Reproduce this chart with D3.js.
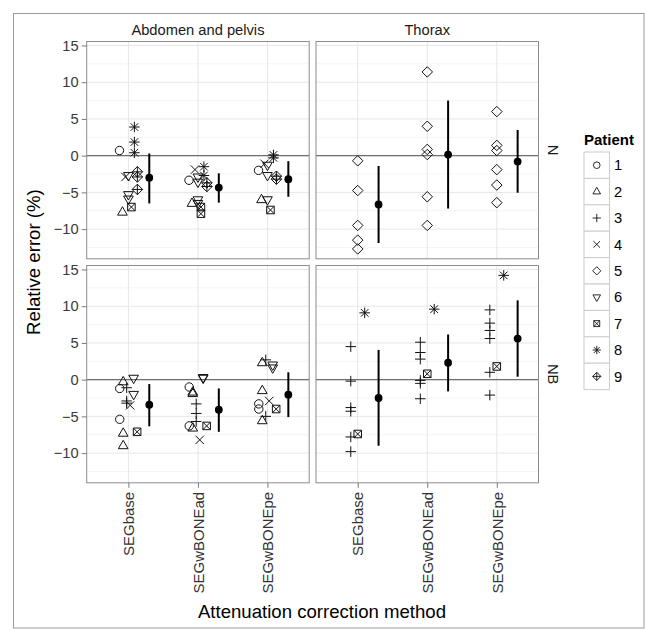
<!DOCTYPE html>
<html>
<head>
<meta charset="utf-8">
<script src="https://cdn.jsdelivr.net/npm/d3@7"></script>
<style>
  body { margin: 0; background: #fff; }
  text { font-family: "Liberation Sans", Arial, sans-serif; }
</style>
</head>
<body>
<div id="chart"></div>
<script>
var methods = ["SEGbase", "SEGwBONEad", "SEGwBONEpe"];
var regions = ["Abdomen and pelvis", "Thorax"];
var lesionTypes = ["N", "NB"];
var patients = [1, 2, 3, 4, 5, 6, 7, 8, 9];
var yTicks = [-10, -5, 0, 5, 10, 15];

// lesions: [method index, patient, relative error %]
var abdomenN = [
  [0, 1, 0.7], [0, 2, -7.7], [0, 4, -2.9], [0, 6, -2.7], [0, 6, -5.3], [0, 6, -5.9],
  [0, 7, -7.0], [0, 8, 3.9], [0, 8, 1.85], [0, 8, 0.4], [0, 9, -2.2], [0, 9, -2.9], [0, 9, -4.6],
  [1, 1, -3.35], [1, 2, -6.5], [1, 4, -1.9], [1, 6, -2.9], [1, 6, -3.6], [1, 6, -6.0], [1, 6, -6.5],
  [1, 7, -7.0], [1, 7, -7.9], [1, 8, -1.5], [1, 8, -2.7], [1, 9, -3.7], [1, 9, -4.2],
  [2, 1, -2.0], [2, 2, -6.0], [2, 4, -1.1], [2, 6, -1.3], [2, 6, -2.7], [2, 6, -6.0],
  [2, 7, -7.4], [2, 8, 0.1], [2, 8, -0.3], [2, 9, -2.8], [2, 9, -3.2]
];
var thoraxN = [
  [0, 5, -0.7], [0, 5, -4.75], [0, 5, -9.5], [0, 5, -11.5], [0, 5, -12.7],
  [1, 5, 11.4], [1, 5, 4.0], [1, 5, 0.85], [1, 5, 0.15], [1, 5, -5.6], [1, 5, -9.5],
  [2, 5, 6.0], [2, 5, 1.4], [2, 5, 0.7], [2, 5, -1.9], [2, 5, -4.0], [2, 5, -6.4]
];
var abdomenNB = [
  [0, 1, -1.2], [0, 1, -5.4], [0, 2, -0.3], [0, 2, -7.3], [0, 2, -9.0], [0, 3, -1.1],
  [0, 3, -2.9], [0, 3, -3.2], [0, 4, -3.5], [0, 6, 0.2], [0, 6, -2.0], [0, 7, -7.1],
  [1, 1, -1.0], [1, 1, -6.3], [1, 2, -1.7], [1, 2, -1.9], [1, 2, -6.6], [1, 3, -3.3],
  [1, 3, -4.6], [1, 3, -5.7], [1, 4, -8.2], [1, 6, 0.2], [1, 6, 0.3], [1, 7, -6.3],
  [2, 1, -3.3], [2, 1, -4.0], [2, 2, 2.3], [2, 2, -1.5], [2, 2, -5.6], [2, 3, 2.7],
  [2, 3, -5.0], [2, 4, -2.9], [2, 6, 2.0], [2, 6, 1.6], [2, 7, -4.0]
];
var thoraxNB = [
  [0, 3, 4.5], [0, 3, -0.2], [0, 3, -3.8], [0, 3, -4.3], [0, 3, -7.8], [0, 3, -9.8],
  [0, 7, -7.4], [0, 8, 9.1],
  [1, 3, 5.1], [1, 3, 3.7], [1, 3, 2.8], [1, 3, -0.1], [1, 3, -0.5], [1, 3, -2.6],
  [1, 7, 0.8], [1, 8, 9.6],
  [2, 3, 9.5], [2, 3, 7.7], [2, 3, 6.7], [2, 3, 5.6], [2, 3, 1.0], [2, 3, -2.1],
  [2, 7, 1.8], [2, 8, 14.2]
];

// summaries: [method index, mean, low, high]
var abdomenNStats = [[0, -3.0, -6.5, 0.3], [1, -4.35, -6.4, -2.4], [2, -3.2, -5.6, -0.75]];
var thoraxNStats = [[0, -6.65, -11.9, -1.4], [1, 0.15, -7.2, 7.5], [2, -0.8, -5.05, 3.5]];
var abdomenNBStats = [[0, -3.4, -6.35, -0.6], [1, -4.1, -7.1, -1.2], [2, -2.05, -5.1, 1.0]];
var thoraxNBStats = [[0, -2.5, -9.0, 4.05], [1, 2.3, -1.6, 6.15], [2, 5.6, 0.4, 10.8]];

var panels = [
  {col: 0, row: 0, pts: abdomenN, stats: abdomenNStats},
  {col: 1, row: 0, pts: thoraxN, stats: thoraxNStats},
  {col: 0, row: 1, pts: abdomenNB, stats: abdomenNBStats},
  {col: 1, row: 1, pts: thoraxNB, stats: thoraxNBStats}
];

var W = 650, H = 631;
var panelX = [86.7, 316], panelY = [41.5, 265.5];
var pw = 222.5, ph = 217.3;

var svg = d3.select("#chart").append("svg")
    .attr("width", W)
    .attr("height", H);

// outer frame
svg.append("rect")
    .attr("x", 13.5).attr("y", 13.5)
    .attr("width", 630.5).attr("height", 614.5)
    .attr("fill", "none").attr("stroke", "#9a9a9a").attr("stroke-width", 1);

// shared scales
var allVals = [];
panels.forEach(function(p) {
  p.pts.forEach(function(d) { allVals.push(d[2]); });
  p.stats.forEach(function(d) { allVals.push(d[2], d[3]); });
});
var ext = d3.extent(allVals), pad = (ext[1] - ext[0]) * 0.05;
var y = d3.scaleLinear().domain([ext[0] - pad, ext[1] + pad]).range([ph, 0]);
var x = d3.scalePoint().domain(d3.range(methods.length)).range([0, pw]).padding(0.6);
var step = x.step();
var minorTicks = [-12.5, -7.5, -2.5, 2.5, 7.5, 12.5];

function shapePath(pch, s) {
  var a = s * 1.25;
  switch (pch) {
    case 1: return "M" + (-s) + ",0A" + s + "," + s + " 0 1,0 " + s + ",0A" + s + "," + s + " 0 1,0 " + (-s) + ",0Z";
    case 2: return "M0," + (-s * 1.3) + "L" + (s * 1.15) + "," + (s * 0.7) + "L" + (-s * 1.15) + "," + (s * 0.7) + "Z";
    case 3: return "M" + (-a) + ",0H" + a + "M0," + (-a) + "V" + a;
    case 4: return "M" + (-s) + "," + (-s) + "L" + s + "," + s + "M" + (-s) + "," + s + "L" + s + "," + (-s);
    case 5: return "M0," + (-a) + "L" + a + ",0L0," + a + "L" + (-a) + ",0Z";
    case 6: return "M0," + (s * 1.3) + "L" + (s * 1.15) + "," + (-s * 0.7) + "L" + (-s * 1.15) + "," + (-s * 0.7) + "Z";
    case 7: var q = s * 0.9;
      return "M" + (-q) + "," + (-q) + "H" + q + "V" + q + "H" + (-q) + "Z" +
        "M" + (-q) + "," + (-q) + "L" + q + "," + q + "M" + (-q) + "," + q + "L" + q + "," + (-q);
    case 8: var c = s * 0.9;
      return "M" + (-a) + ",0H" + a + "M0," + (-a) + "V" + a +
        "M" + (-c) + "," + (-c) + "L" + c + "," + c + "M" + (-c) + "," + c + "L" + c + "," + (-c);
    case 9: return "M0," + (-a) + "L" + a + ",0L0," + a + "L" + (-a) + ",0Z" +
        "M" + (-a) + ",0H" + a + "M0," + (-a) + "V" + a;
  }
}

panels.forEach(function(p) {
  var g = svg.append("g")
      .attr("transform", "translate(" + panelX[p.col] + "," + panelY[p.row] + ")");

  g.append("rect").attr("width", pw).attr("height", ph).attr("fill", "#fff");

  // grid
  g.selectAll(".minor").data(minorTicks).enter().append("line")
      .attr("x1", 0).attr("x2", pw)
      .attr("y1", function(d) { return y(d); }).attr("y2", function(d) { return y(d); })
      .attr("stroke", "#f3f3f3").attr("stroke-width", 0.8);
  g.selectAll(".major").data(yTicks).enter().append("line")
      .attr("x1", 0).attr("x2", pw)
      .attr("y1", function(d) { return y(d); }).attr("y2", function(d) { return y(d); })
      .attr("stroke", "#e6e6e6").attr("stroke-width", 1);
  g.selectAll(".vgrid").data(d3.range(methods.length)).enter().append("line")
      .attr("x1", function(d) { return x(d); }).attr("x2", function(d) { return x(d); })
      .attr("y1", 0).attr("y2", ph)
      .attr("stroke", "#e6e6e6").attr("stroke-width", 1);

  // zero reference line
  g.append("line")
      .attr("x1", 0).attr("x2", pw)
      .attr("y1", y(0)).attr("y2", y(0))
      .attr("stroke", "#6e6e6e").attr("stroke-width", 1.4);

  // points dodged by patient within each method
  p.pts.forEach(function(d) {
    var present = Array.from(new Set(p.pts.filter(function(e) { return e[0] === d[0]; })
        .map(function(e) { return e[1]; }))).sort(d3.ascending);
    var n = present.length, i = present.indexOf(d[1]);
    var off = (i - (n - 1) / 2) * 0.3 / n * step;
    g.append("path")
        .attr("transform", "translate(" + (x(d[0]) + off) + "," + y(d[2]) + ")")
        .attr("d", shapePath(d[1], 4.2))
        .attr("fill", "none").attr("stroke", "#111").attr("stroke-width", 1);
  });

  // mean and error bar
  p.stats.forEach(function(d) {
    var cx = x(d[0]) + 0.3 * step;
    g.append("line")
        .attr("x1", cx).attr("x2", cx)
        .attr("y1", y(d[2])).attr("y2", y(d[3]))
        .attr("stroke", "#000").attr("stroke-width", 2);
    g.append("circle")
        .attr("cx", cx).attr("cy", y(d[1])).attr("r", 3.9)
        .attr("fill", "#000");
  });

  g.append("rect").attr("width", pw).attr("height", ph)
      .attr("fill", "none").attr("stroke", "#8c8c8c").attr("stroke-width", 1);

  // column strip
  if (p.row === 0) {
    svg.append("text")
        .attr("x", panelX[p.col] + pw / 2).attr("y", panelY[0] - 7)
        .attr("text-anchor", "middle").attr("font-size", "14.7px").attr("fill", "#1a1a1a")
        .text(regions[p.col]);
  }
  // row strip
  if (p.col === 1) {
    svg.append("text")
        .attr("transform", "translate(" + (panelX[1] + pw + 9) + "," + (panelY[p.row] + ph / 2) + ") rotate(90)")
        .attr("text-anchor", "middle").attr("font-size", "14.7px").attr("fill", "#1a1a1a")
        .text(lesionTypes[p.row]);
  }
  // y axis
  if (p.col === 0) {
    var ya = g.append("g")
        .call(d3.axisLeft(y).tickValues(yTicks).tickSize(5).tickPadding(3)
          .tickFormat(function(d) { return d < 0 ? "\u2212" + Math.abs(d) : d; }));
    ya.select(".domain").remove();
    ya.selectAll("line").attr("stroke", "#7a7a7a");
    ya.selectAll("text").attr("font-size", "14.7px").attr("fill", "#3a3a3a")
        .style("font-family", "Liberation Sans, Arial, sans-serif");
  }
  // x axis
  if (p.row === 1) {
    var xa = g.append("g").attr("transform", "translate(0," + ph + ")")
        .call(d3.axisBottom(x).tickSize(5).tickPadding(3)
          .tickFormat(function(d) { return methods[d]; }));
    xa.select(".domain").remove();
    xa.selectAll("line").attr("stroke", "#7a7a7a");
    xa.selectAll("text")
        .attr("font-size", "15px").attr("fill", "#333")
        .style("font-family", "Liberation Sans, Arial, sans-serif")
        .attr("text-anchor", "end")
        .attr("transform", "rotate(-90)")
        .attr("x", -9).attr("y", 0).attr("dy", "0.35em");
  }
});

// axis titles
svg.append("text")
    .attr("x", 322).attr("y", 618)
    .attr("text-anchor", "middle").attr("font-size", "18.6px").attr("fill", "#000")
    .text("Attenuation correction method");
svg.append("text")
    .attr("transform", "translate(40," + (panelY[0] + (panelY[1] + ph - panelY[0]) / 2) + ") rotate(-90)")
    .attr("text-anchor", "middle").attr("font-size", "18.6px").attr("fill", "#000")
    .text("Relative error (%)");

// legend
var lg = svg.append("g").attr("transform", "translate(584,152)");
lg.append("text").attr("x", 0).attr("y", -7)
    .attr("font-size", "15px").attr("font-weight", "bold")
    .text("Patient");
var key = 26.4;
patients.forEach(function(pt, i) {
  lg.append("rect").attr("x", 0).attr("y", i * key)
      .attr("width", 25.5).attr("height", key)
      .attr("fill", "#fff").attr("stroke", "#cccccc").attr("stroke-width", 1);
  lg.append("path")
      .attr("transform", "translate(12.75," + (i * key + key / 2) + ")")
      .attr("d", shapePath(pt, 3.3))
      .attr("fill", "none").attr("stroke", "#111").attr("stroke-width", 0.9);
  lg.append("text").attr("x", 30).attr("y", i * key + key / 2)
      .attr("dy", "0.35em").attr("font-size", "14.7px")
      .text(pt);
});
</script>
</body>
</html>
